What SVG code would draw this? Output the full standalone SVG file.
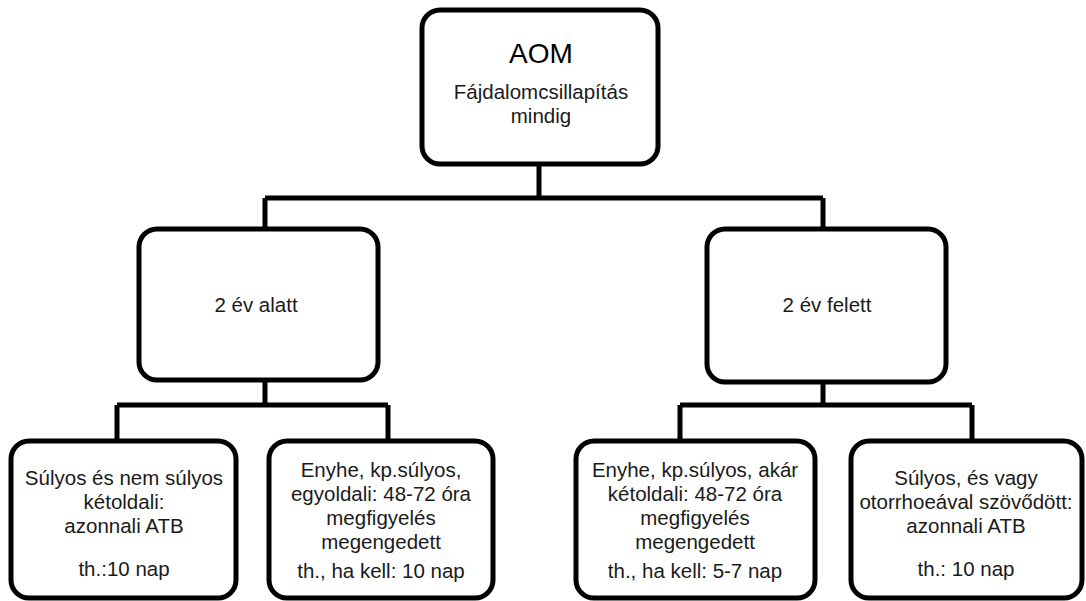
<svg xmlns="http://www.w3.org/2000/svg" width="1086" height="601" viewBox="0 0 1086 601">
<style>
.box{fill:#fff;stroke:#000;stroke-width:5}
.con{fill:none;stroke:#000;stroke-width:5}
text{font-family:"Liberation Sans",Arial,sans-serif;font-size:20.5px;fill:#1a1a1a;text-anchor:middle}
.big{font-size:28px;fill:#000}
</style>
<rect width="1086" height="601" fill="#fff"/>
<g id="connectors">
<path class="con" d="M539,164 V198 M265,198 H823 M265,198 V229 M823,198 V229"/>
<path class="con" d="M265,380 V405 M117,405 H388 M117,405 V441 M388,405 V441"/>
<path class="con" d="M823,382 V405 M680,405 H972 M680,405 V441 M972,405 V441"/>
</g>
<g id="aom">
<rect class="box" x="422" y="10" width="236" height="154" rx="18"/>
<text class="big" x="541" y="63">AOM</text>
<text x="541" y="99">Fájdalomcsillapítás</text>
<text x="541" y="123">mindig</text>
</g>
<g id="under2">
<rect class="box" x="139" y="229" width="239" height="151" rx="18"/>
<text x="256" y="312">2 év alatt</text>
</g>
<g id="over2">
<rect class="box" x="707" y="229" width="239" height="153" rx="18"/>
<text x="827" y="312">2 év felett</text>
</g>
<g id="leaf1">
<rect class="box" x="11" y="441" width="225" height="157" rx="18"/>
<text x="124" y="485">Súlyos és nem súlyos</text>
<text x="124" y="509">kétoldali:</text>
<text x="124" y="533">azonnali ATB</text>
<text x="124" y="576">th.:10 nap</text>
</g>
<g id="leaf2">
<rect class="box" x="269" y="441" width="224" height="157" rx="18"/>
<text x="381" y="477">Enyhe, kp.súlyos,</text>
<text x="381" y="501">egyoldali: 48-72 óra</text>
<text x="381" y="525">megfigyelés</text>
<text x="381" y="549">megengedett</text>
<text x="381" y="578">th., ha kell: 10 nap</text>
</g>
<g id="leaf3">
<rect class="box" x="576" y="441" width="239" height="157" rx="18"/>
<text x="695" y="477">Enyhe, kp.súlyos, akár</text>
<text x="695" y="501">kétoldali: 48-72 óra</text>
<text x="695" y="525">megfigyelés</text>
<text x="695" y="549">megengedett</text>
<text x="695" y="578">th., ha kell: 5-7 nap</text>
</g>
<g id="leaf4">
<rect class="box" x="851" y="441" width="231" height="157" rx="18"/>
<text x="966" y="485">Súlyos, és vagy</text>
<text x="966" y="509">otorrhoeával szövődött:</text>
<text x="966" y="533">azonnali ATB</text>
<text x="966" y="576">th.: 10 nap</text>
</g>
</svg>
